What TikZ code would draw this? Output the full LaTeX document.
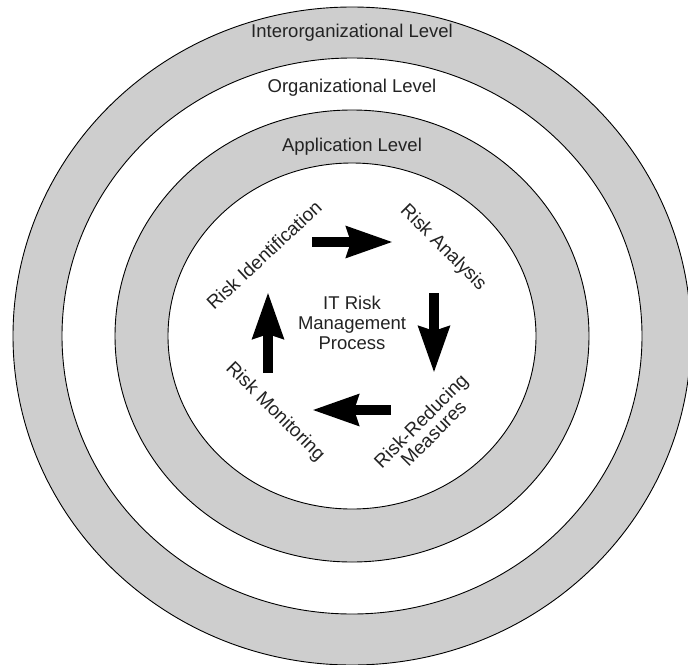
\documentclass[tikz,border=0pt]{standalone}
\usepackage{fontspec}
\setmainfont{Liberation Sans}
\usetikzlibrary{arrows.meta}
\definecolor{ringgray}{RGB}{206,206,206}
\definecolor{txt}{RGB}{35,35,35}
\begin{document}
\begin{tikzpicture}[x=1pt,y=-1pt,
  ring/.style={draw=black,line width=0.9pt},
  lbl/.style={font=\fontsize{18.5}{20}\selectfont, text=txt, inner sep=0pt},
  rlbl/.style={font=\fontsize{19}{18}\selectfont, text=txt, inner sep=0pt, align=center},
  blockarrow/.style={line width=10pt, draw=black, -{Stealth[length=46pt,width=30pt,inset=4pt]}}]
\useasboundingbox (0,0) rectangle (688,664);
\begin{scope}
\clip (0,0) rectangle (688,664);
\path[ring, fill=ringgray] (352,336) ellipse [x radius=339, y radius=329];
\path[ring, fill=white] (352,336) ellipse [x radius=290, y radius=278];
\path[ring, fill=ringgray] (352,336) ellipse [x radius=237, y radius=226];
\path[ring, fill=white] (352,336) ellipse [x radius=184, y radius=173];
\end{scope}
\node[lbl] (inter) at (352,33) {Interorganizational Level};
\node[lbl] (org) at (352,88) {Organizational Level};
\node[lbl] (app) at (352,147) {Application Level};
\node[lbl, align=center] (proc) at (352,323) {IT Risk\\Management\\Process};
\node[rlbl, rotate=43] (ident) at (264,255) {Risk Identification};
\node[rlbl, rotate=-45] (anal) at (443,248) {Risk Analysis};
\node[rlbl, rotate=-45] (mon) at (275,412) {Risk Monitoring};
\node[rlbl, rotate=45] (red) at (427,427) {Risk-Reducing\\Measures};
\coordinate (t1) at (312,242); \coordinate (t2) at (393,242);
\coordinate (r1) at (434,293); \coordinate (r2) at (434,373);
\coordinate (b1) at (391,410); \coordinate (b2) at (312,410);
\coordinate (l1) at (268,373); \coordinate (l2) at (268,292);
\draw[blockarrow] (t1) -- (t2);
\draw[blockarrow] (r1) -- (r2);
\draw[blockarrow] (b1) -- (b2);
\draw[blockarrow] (l1) -- (l2);
\end{tikzpicture}
\end{document}
